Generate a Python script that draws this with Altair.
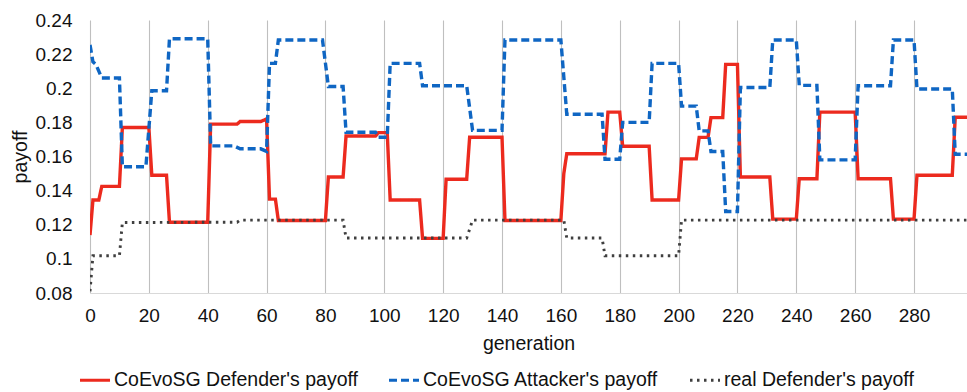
import altair as alt
import pandas as pd

FONT = "Liberation Sans"
TEXT = "#111111"

SERIES = [
    "CoEvoSG Defender's payoff",
    "CoEvoSG Attacker's payoff",
    "real Defender's payoff",
]
COLORS = ["#EC2A1E", "#0F66C3", "#3F3F3F"]
DASHES = [[1, 0], [8, 4], [2.5, 4.5]]
WIDTHS = [3.4, 3.4, 2.9]

# Step breakpoints (generation, payoff) for each series
defender_gen = [0, 1, 3, 4, 10, 11, 20, 21, 26, 27, 40, 41, 50, 51, 58, 60, 61, 63, 64,
                80, 81, 86, 87, 97, 98, 101, 102, 112, 113, 120, 121, 128, 129, 140, 141,
                160, 161, 162, 175, 176, 180, 181, 190, 191, 200, 201, 206, 207, 210, 211,
                215, 216, 220, 221, 231, 232, 240, 241, 247, 248, 260, 261, 272, 273, 280,
                281, 293, 294, 298]
defender_val = [0.114, 0.1345, 0.1345, 0.1425, 0.1425, 0.177, 0.177, 0.149, 0.149, 0.1215,
                0.1215, 0.179, 0.179, 0.1805, 0.1805, 0.182, 0.135, 0.135, 0.1225,
                0.1225, 0.148, 0.148, 0.172, 0.172, 0.174, 0.174, 0.1345, 0.1345, 0.112,
                0.112, 0.1467, 0.1467, 0.1713, 0.1713, 0.1225,
                0.1225, 0.150, 0.1616, 0.1616, 0.186, 0.186, 0.166, 0.166, 0.1345, 0.1345,
                0.1586, 0.1586, 0.1712, 0.1712, 0.1828,
                0.1828, 0.214, 0.214, 0.148, 0.148, 0.1233, 0.1233, 0.147, 0.147, 0.186,
                0.186, 0.147, 0.147, 0.1233, 0.1233,
                0.149, 0.149, 0.183, 0.183]

attacker_gen = [0, 1, 2, 4, 10, 11, 19, 21, 26, 27, 40, 41, 49, 51, 58, 60, 61, 63, 64,
                79, 81, 86, 87, 97, 98, 101, 102, 112, 113, 128, 130, 140, 141, 160, 162,
                174, 175, 180, 181, 190, 191, 200, 201, 206, 207, 210, 211, 215, 216, 220,
                221, 231, 232, 240, 241, 247, 248, 260, 261, 272, 273, 280, 281, 293, 294,
                298]
attacker_val = [0.2254, 0.2155, 0.214, 0.206, 0.206, 0.154, 0.154, 0.1985, 0.1985, 0.229,
                0.229, 0.1662, 0.1662, 0.1645, 0.1645, 0.163, 0.2146, 0.2146, 0.2283,
                0.2283, 0.201, 0.201, 0.1742, 0.1742, 0.1713, 0.1713, 0.2146, 0.2146,
                0.2015, 0.2015, 0.1753, 0.1753, 0.2283, 0.2283, 0.1848,
                0.1848, 0.1584, 0.1584, 0.180, 0.180, 0.2146, 0.2146, 0.1895, 0.1895,
                0.175, 0.175, 0.1629, 0.1629, 0.1278, 0.1278,
                0.2004, 0.2004, 0.2283, 0.2283, 0.2017, 0.2017, 0.158, 0.158, 0.2015,
                0.2015, 0.2283, 0.2283, 0.1996, 0.1996, 0.1613,
                0.1613]

real_gen = [0, 1, 10, 11, 50, 51, 86, 87, 128, 130, 161, 162, 174, 175, 200, 201, 298]
real_val = [0.081, 0.1018, 0.1018, 0.1213, 0.1215, 0.1227, 0.1227, 0.1122, 0.1122, 0.1227,
            0.1227, 0.1122, 0.1122, 0.1018, 0.1018, 0.1227, 0.1227]

x_ticks = [0, 20, 40, 60, 80, 100, 120, 140, 160, 180, 200, 220, 240, 260, 280]
y_ticks = [0.08, 0.1, 0.12, 0.14, 0.16, 0.18, 0.2, 0.22, 0.24]

frames = []
for name, gens, vals in zip(SERIES, [defender_gen, attacker_gen, real_gen],
                            [defender_val, attacker_val, real_val]):
    frames.append(pd.DataFrame({"generation": gens, "payoff": vals, "series": name}))
df = pd.concat(frames, ignore_index=True)

x_enc = alt.X(
    "generation:Q",
    scale=alt.Scale(domain=[0, 298], nice=False, zero=False),
    axis=alt.Axis(
        values=x_ticks, title="generation", grid=True, gridColor="#BFBFBF", gridWidth=1.1,
        ticks=False, tickSize=0, domain=True, domainColor="#D9D9D9", domainWidth=1,
        labelFont=FONT, labelFontSize=19, labelColor=TEXT, labelPadding=13,
        labelFlush=False, labelOverlap=False,
        titleFont=FONT, titleFontSize=19.5, titleFontWeight="normal", titleColor=TEXT,
        titleY=50, titleBaseline="middle",
    ),
)
y_enc = alt.Y(
    "payoff:Q",
    scale=alt.Scale(domain=[0.08, 0.24], nice=False, zero=False),
    axis=alt.Axis(
        values=y_ticks, labelExpr="format(datum.value, '.2~f')", grid=False,
        ticks=False, tickSize=0, domain=False,
        labelFont=FONT, labelFontSize=19, labelColor=TEXT, labelPadding=18,
        labelFlush=False, labelOverlap=False,
        title="payoff", titleFont=FONT, titleFontSize=19.5, titleFontWeight="normal",
        titleColor=TEXT, titleAngle=270, titleX=-70, titleY=136.5,
        titleBaseline="middle", titleAlign="center",
    ),
)

legend = alt.Legend(
    title=None, orient="none", legendX=-12, legendY=343, direction="horizontal",
    columns=3, symbolType="stroke", symbolSize=900, symbolStrokeWidth=3.2,
    labelFont=FONT, labelFontSize=19.5, labelColor=TEXT, labelOffset=2,
    columnPadding=24, padding=0, labelLimit=400, symbolOpacity=1,
)
color_enc = alt.Color("series:N", scale=alt.Scale(domain=SERIES, range=COLORS), legend=legend)
dash_enc = alt.StrokeDash("series:N", scale=alt.Scale(domain=SERIES, range=DASHES), legend=legend)

layers = []
for name, w in zip(SERIES, WIDTHS):
    layers.append(
        alt.Chart(df)
        .transform_filter(alt.datum.series == name)
        .mark_line(strokeWidth=w, strokeJoin="miter", clip=True)
        .encode(x=x_enc, y=y_enc, color=color_enc, strokeDash=dash_enc)
    )

chart = (
    alt.layer(*layers)
    .properties(
        width=877, height=273,
        padding={"left": 90, "top": 20, "right": 0, "bottom": 99},
        autosize=alt.AutoSizeParams(type="none"),
        background="white",
    )
    .configure_view(stroke=None)
)

chart.save("out.html", embed_options={"renderer": "svg", "actions": False})
